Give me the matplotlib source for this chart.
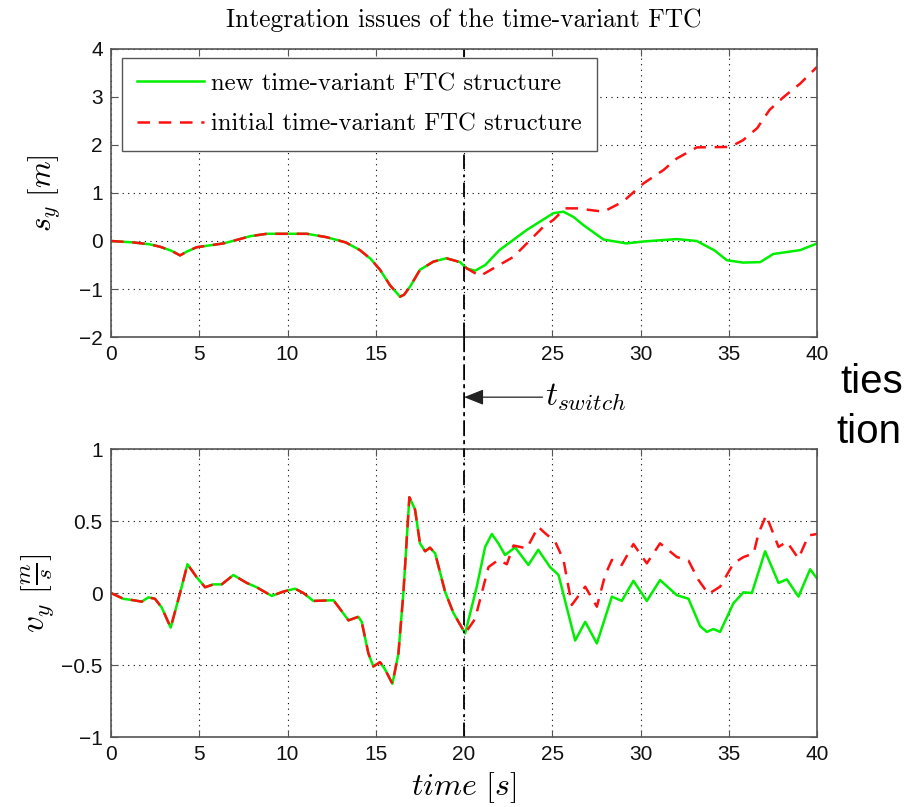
import numpy as np
import matplotlib
matplotlib.use('Agg')
import matplotlib.pyplot as plt
from matplotlib.patches import ConnectionPatch

plt.rcParams['font.family'] = ['Liberation Sans', 'DejaVu Sans']
plt.rcParams['mathtext.fontset'] = 'cm'
plt.rcParams['axes.unicode_minus'] = True

# s_y: common part (both structures identical up to the switch)
t_sy_common = [0, 1.27, 2.2, 2.78, 3.4, 3.91, 4.3, 4.85, 6.37, 7.2, 7.88, 8.82,
               11.1, 12.2, 13.3, 14.1, 14.7, 15.24, 15.8, 16.37, 16.6, 16.94,
               17.5, 18.26, 19.0, 19.77, 20.15]
sy_common = [0, -0.03, -0.07, -0.12, -0.2, -0.3, -0.22, -0.13, -0.05, 0.03,
             0.1, 0.15, 0.15, 0.08, -0.03, -0.19, -0.37, -0.6, -0.92, -1.16,
             -1.12, -0.95, -0.6, -0.43, -0.36, -0.44, -0.57]

t_sy_new = [20.62, 21.2, 22.0, 23.55, 25.06, 25.63, 26.2, 26.76, 27.9, 29.2,
            30.16, 32.05, 33.18, 34.2, 34.88, 35.8, 36.77, 37.52, 39.04, 40.0]
sy_new = [-0.62, -0.5, -0.19, 0.23, 0.58, 0.61, 0.5, 0.33, 0.03, -0.05,
          -0.01, 0.04, 0.0, -0.2, -0.4, -0.45, -0.44, -0.27, -0.19, -0.05]

t_sy_init = [20.9, 22.8, 24.5, 25.06, 25.72, 26.4, 27.9, 29.0, 30.16, 31.3,
             32.05, 33.18, 35.07, 35.8, 36.6, 37.3, 38.1, 39.04, 40.0]
sy_init = [-0.73, -0.33, 0.3, 0.44, 0.68, 0.68, 0.61, 0.82, 1.2, 1.48,
           1.72, 1.95, 1.96, 2.1, 2.35, 2.73, 3.0, 3.28, 3.63]

# v_y: common part
t_vy_common = [0, 0.7, 1.27, 1.74, 2.12, 2.49, 2.87, 3.38, 3.91, 4.33, 4.85,
               5.33, 5.8, 6.27, 6.93, 7.69, 8.25, 9.1, 9.76, 10.42, 10.9,
               11.46, 12.6, 12.97, 13.45, 14.01, 14.2, 14.58, 14.86, 15.24,
               15.52, 15.94, 16.28, 16.56, 16.9, 17.22, 17.5, 17.79, 18.07,
               18.36, 18.92, 19.4, 20.06]
vy_common = [0, -0.04, -0.05, -0.06, -0.03, -0.04, -0.1, -0.24, 0.0, 0.2, 0.11,
             0.04, 0.06, 0.06, 0.125, 0.07, 0.04, -0.02, 0.01, 0.03, 0.0,
             -0.055, -0.05, -0.11, -0.19, -0.165, -0.2, -0.42, -0.51, -0.48,
             -0.53, -0.63, -0.42, 0.0, 0.665, 0.58, 0.345, 0.29, 0.315,
             0.275, 0.01, -0.14, -0.28]

t_vy_new = [20.72, 21.19, 21.57, 21.94, 22.32, 22.89, 23.64, 24.2, 24.87,
            25.35, 26.29, 26.86, 27.52, 28.37, 28.93, 29.59, 30.35, 31.1,
            32.05, 32.71, 33.37, 33.75, 34.12, 34.5, 35.26, 35.83, 36.3,
            37.05, 37.81, 38.28, 38.94, 39.6, 40.0]
vy_new = [0.045, 0.32, 0.41, 0.345, 0.264, 0.317, 0.195, 0.30, 0.18,
          0.125, -0.33, -0.2, -0.35, -0.025, -0.055, 0.085, -0.055, 0.09,
          -0.015, -0.04, -0.23, -0.27, -0.25, -0.27, -0.07, 0.005, 0.0,
          0.29, 0.07, 0.095, -0.025, 0.165, 0.10]

t_vy_init = [20.62, 21.0, 21.38, 21.94, 22.42, 22.8, 23.55, 24.2, 24.5,
             25.16, 25.63, 26.1, 26.86, 27.52, 27.99, 28.37, 28.93, 29.59,
             30.35, 31.1, 32.05, 32.71, 33.28, 33.84, 34.5, 35.26, 35.83,
             36.4, 36.68, 37.11, 37.81, 38.28, 38.94, 39.51, 40.0]
vy_init = [-0.18, 0.0, 0.18, 0.23, 0.2, 0.33, 0.31, 0.46, 0.425,
           0.356, 0.23, -0.083, 0.044, -0.095, 0.125, 0.23, 0.195, 0.34,
           0.206, 0.345, 0.25, 0.225, 0.09, -0.007, 0.044, 0.206, 0.25,
           0.275, 0.415, 0.54, 0.32, 0.356, 0.24, 0.40, 0.41]

t_switch = 20
xticks = [0, 5, 10, 15, 20, 25, 30, 35, 40]
sy_ticks = [-2, -1, 0, 1, 2, 3, 4]
vy_ticks = [-1, -0.5, 0, 0.5, 1]
vy_ticklabels = ['\u22121', '\u22120.5', '0', '0.5', '1']

GREEN = '#00ee00'
RED = '#ff1010'
SPINE = '#555555'
DASHDOT = (0, (8, 3, 1.5, 3))

fig = plt.figure(figsize=(9.1, 8.07), dpi=100)
ax1 = fig.add_axes([0.122, 0.5824, 0.776, 0.3569])
ax2 = fig.add_axes([0.122, 0.0867, 0.776, 0.3569])


def style_axes(ax):
    ax.grid(True, linestyle=(0, (1, 4)), color='black', linewidth=0.8)
    ax.tick_params(direction='in', top=True, right=True, length=5,
                   labelsize=15, colors=SPINE, labelcolor='#111111', pad=6)
    for sp in ax.spines.values():
        sp.set_color(SPINE)
        sp.set_linewidth(1.2)


# top: position
ax1.plot(np.r_[t_sy_common, t_sy_new], np.r_[sy_common, sy_new],
         color=GREEN, lw=1.8, label='new time-variant FTC structure')
ax1.plot(np.r_[t_sy_common, t_sy_init], np.r_[sy_common, sy_init],
         color=RED, lw=1.8, dashes=(5, 3.5),
         label='initial time-variant FTC structure')
ax1.axvline(t_switch, color='black', lw=1.3, linestyle=DASHDOT)
ax1.set_xlim(0, 40)
ax1.set_ylim(-2, 4)
ax1.set_xticks(xticks)
ax1.set_xticklabels(['' if x == t_switch else str(x) for x in xticks])
ax1.set_yticks(sy_ticks)
ax1.set_yticklabels([str(v).replace('-', '\u2212') for v in sy_ticks])
style_axes(ax1)
ax1.set_ylabel(r'$s_y\ [m]$', fontsize=22, labelpad=12)
ax1.set_title('Integration issues of the time-variant FTC', family='cmr10',
              fontsize=18.3, pad=16)
leg = ax1.legend(loc='upper left', bbox_to_anchor=(0.0156, 0.969),
                 borderaxespad=0, prop={'family': 'cmr10', 'size': 17.8},
                 fancybox=False, framealpha=1, edgecolor=SPINE,
                 handlelength=2.7, handletextpad=0.3, borderpad=0.6,
                 labelspacing=0.75)
leg.get_frame().set_linewidth(1.0)
leg.set_zorder(10)

# bottom: velocity
ax2.plot(np.r_[t_vy_common, t_vy_new], np.r_[vy_common, vy_new],
         color=GREEN, lw=1.8)
ax2.plot(np.r_[t_vy_common, t_vy_init], np.r_[vy_common, vy_init],
         color=RED, lw=1.8, dashes=(5, 3.5))
ax2.axvline(t_switch, color='black', lw=1.3, linestyle=DASHDOT)
ax2.set_xlim(0, 40)
ax2.set_ylim(-1, 1)
ax2.set_xticks(xticks)
ax2.set_xticklabels([str(x) for x in xticks])
ax2.set_yticks(vy_ticks)
ax2.set_yticklabels(vy_ticklabels)
style_axes(ax2)
ax2.set_ylabel(r'$v_y\ \left[\frac{m}{s}\right]$', fontsize=24, labelpad=4)
ax2.set_xlabel(r'$time\ [s]$', fontsize=23, labelpad=4)

# switch line through the gap between the panels
con = ConnectionPatch(xyA=(t_switch, -2), coordsA=ax1.transData,
                      xyB=(t_switch, 1), coordsB=ax2.transData,
                      color='black', lw=1.3, linestyle=DASHDOT)
fig.add_artist(con)

ax2.annotate(r'$t_{switch}$', xy=(t_switch, 1.36), xytext=(24.6, 1.36),
             xycoords='data', textcoords='data', annotation_clip=False,
             fontsize=24, va='center', ha='left',
             arrowprops=dict(arrowstyle='-|>,head_length=0.5,head_width=0.2',
                             color='#222222', lw=0.9, shrinkA=0, shrinkB=0))

# slide text peeking out on the right
fig.text(840 / 910, 1 - 393 / 807, 'ties', fontsize=29, ha='left',
         va='baseline', family='Liberation Sans')
fig.text(836 / 910, 1 - 443 / 807, 'tion', fontsize=29, ha='left',
         va='baseline', family='Liberation Sans')

fig.savefig('out.png', dpi=100)
